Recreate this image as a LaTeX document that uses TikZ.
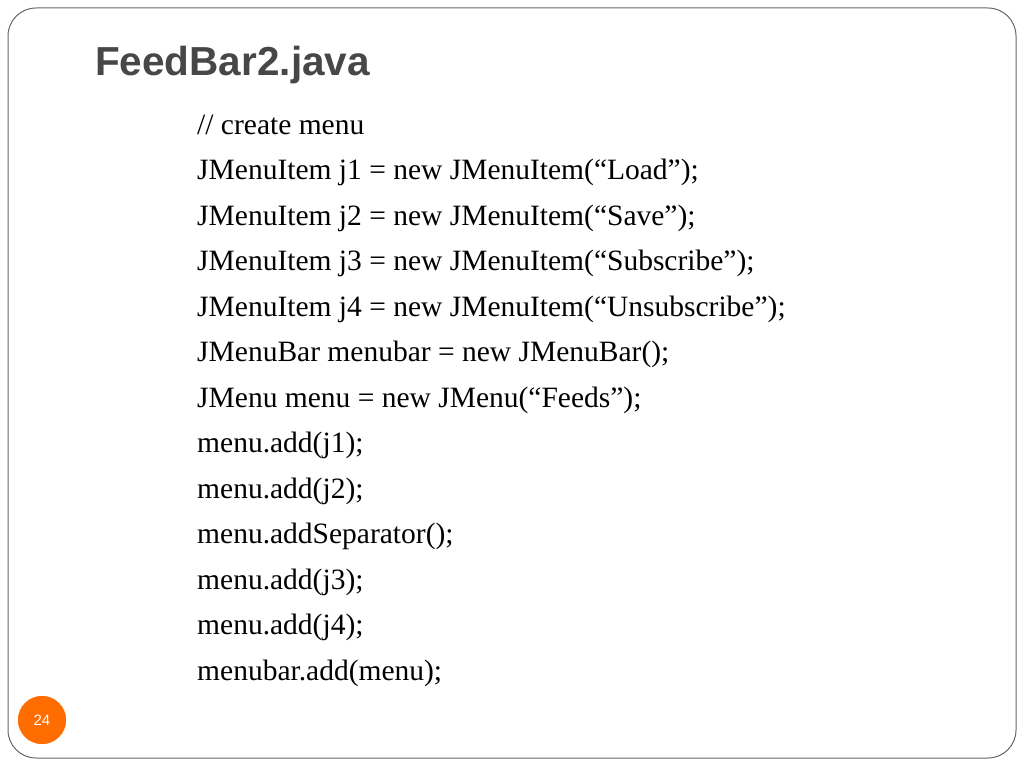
\documentclass[tikz,border=0pt]{standalone}
\usepackage{fontspec}
\setmainfont{Liberation Serif}
\newfontfamily\titlefont{Liberation Sans}
\begin{document}
\begin{tikzpicture}[x=1pt,y=-1pt,
  code/.style={anchor=base west,inner sep=0pt,font=\fontsize{29.5}{34}\selectfont,text=black},
  slidetitle/.style={anchor=base west,inner sep=0pt,font=\titlefont\bfseries\fontsize{40.5}{46}\selectfont,text=black!72}]
\useasboundingbox (0,0) rectangle (1024,768);
\draw[black!60,line width=1pt,rounded corners=28] (8,8) rectangle (1016,758);
\node[slidetitle] (t) at (95,75) {FeedBar2.java};
\foreach \i/\s in {0/{// create menu},1/{JMenuItem j1 = new JMenuItem(“Load”);},2/{JMenuItem j2 = new JMenuItem(“Save”);},3/{JMenuItem j3 = new JMenuItem(“Subscribe”);},4/{JMenuItem j4 = new JMenuItem(“Unsubscribe”);},5/{JMenuBar menubar = new JMenuBar();},6/{JMenu menu = new JMenu(“Feeds”);},7/{menu.add(j1);},8/{menu.add(j2);},9/{menu.addSeparator();},10/{menu.add(j3);},11/{menu.add(j4);},12/{menubar.add(menu);}}
  \node[code] (l\i) at (197,{134+45.5*\i}) {\s};
\node[circle,fill=orange!85!red,draw=white,line width=1.5pt,minimum size=50,inner sep=0pt,text=white,font=\titlefont\fontsize{15}{18}\selectfont] (n) at (42,720) {24};
\end{tikzpicture}
\end{document}
